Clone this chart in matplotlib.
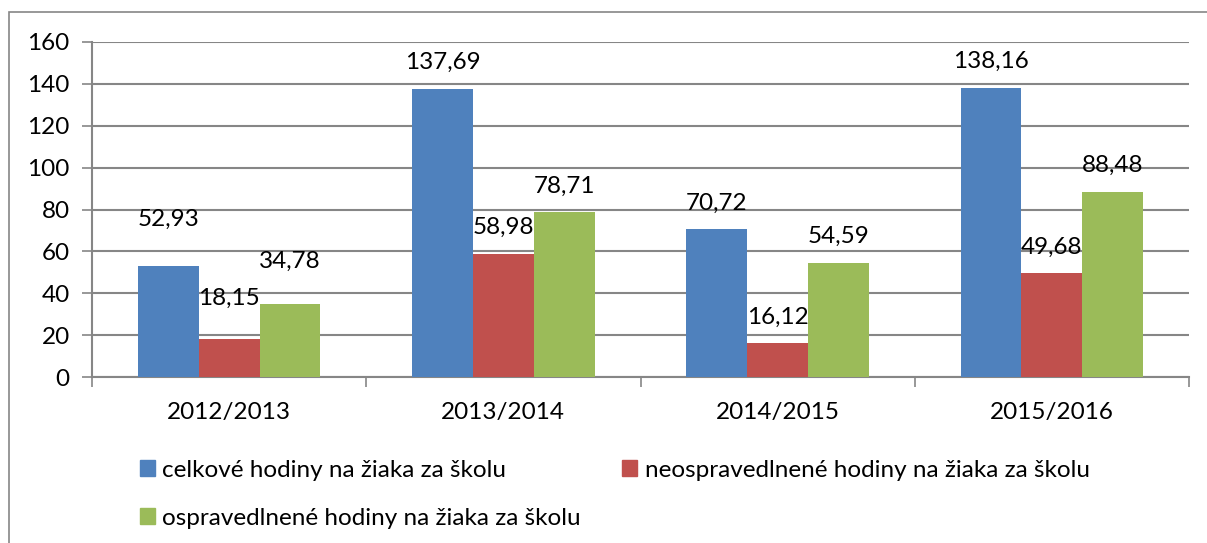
import matplotlib.pyplot as plt
import numpy as np
from matplotlib.patches import Rectangle, Patch

plt.rcParams['font.family'] = ['Lato', 'DejaVu Sans']

years = ['2012/2013', '2013/2014', '2014/2015', '2015/2016']
total_hours = [52.93, 137.69, 70.72, 138.16]
unexcused_hours = [18.15, 58.98, 16.12, 49.68]
excused_hours = [34.78, 78.71, 54.59, 88.48]

series_names = ['celkové hodiny na žiaka za školu',
                'neospravedlnené hodiny na žiaka za školu',
                'ospravedlnené hodiny na žiaka za školu']
colors = ['#4F81BD', '#C0504D', '#9BBB59']

# Excel pushed the labels of the first group a bit higher (pixels)
extra_lift = {(0, 0): 21, (0, 1): 15, (0, 2): 17}

FS = 17.5

fig = plt.figure(figsize=(12.07, 5.43), dpi=100)
ax = fig.add_axes([92 / 1207, 1 - 377 / 543, (1189 - 92) / 1207, (377 - 42) / 543])

# outer chart border (only left and top are visible in the crop)
fig.patches.append(Rectangle((9 / 1207, -0.1), 1.2, 1.1 - 12 / 543,
                             transform=fig.transFigure, fill=False,
                             edgecolor='#868686', linewidth=1.2))

x = np.arange(len(years))
width = 0.222
grid_color = '#868686'

for i, (vals, col) in enumerate(zip([total_hours, unexcused_hours, excused_hours], colors)):
    pos = x + (i - 1) * width
    ax.bar(pos, vals, width=width, color=col, zorder=3)
    for j, (px, v) in enumerate(zip(pos, vals)):
        lift = 26 + extra_lift.get((j, i), 0)
        ax.annotate(f'{v:.2f}'.replace('.', ','), (px, v),
                    xytext=(0, lift * 0.72), textcoords='offset points',
                    ha='center', va='center', fontsize=FS, zorder=4)

ax.set_xlim(-0.5, 3.5)
ax.set_ylim(0, 160)
ax.set_yticks(range(0, 161, 20))
ax.yaxis.grid(True, color=grid_color, linewidth=1.5, zorder=0)

ax.set_xticks(np.arange(-0.5, 4, 1))
ax.set_xticklabels([])
ax.set_xticks(x, minor=True)
ax.set_xticklabels(years, minor=True)
ax.tick_params(axis='x', which='major', length=7, width=1.2, color=grid_color)
ax.tick_params(axis='x', which='minor', length=0, pad=18, labelsize=FS)
ax.tick_params(axis='y', length=7, width=1.2, color=grid_color, pad=9, labelsize=FS)

for side in ['top', 'right']:
    ax.spines[side].set_visible(False)
for side in ['left', 'bottom']:
    ax.spines[side].set_color(grid_color)
    ax.spines[side].set_linewidth(1.5)

handles = [Patch(color=c) for c in colors]
order = [0, 2, 1]
fig.legend([handles[k] for k in order], [series_names[k] for k in order],
           ncol=2, loc='upper left', bbox_to_anchor=(118 / 1207, 1 - 438 / 543),
           frameon=False, fontsize=FS, handlelength=0.62, handleheight=0.62,
           handletextpad=0.3, columnspacing=1.7, labelspacing=1.1)

fig.savefig('out.png', dpi=100)
